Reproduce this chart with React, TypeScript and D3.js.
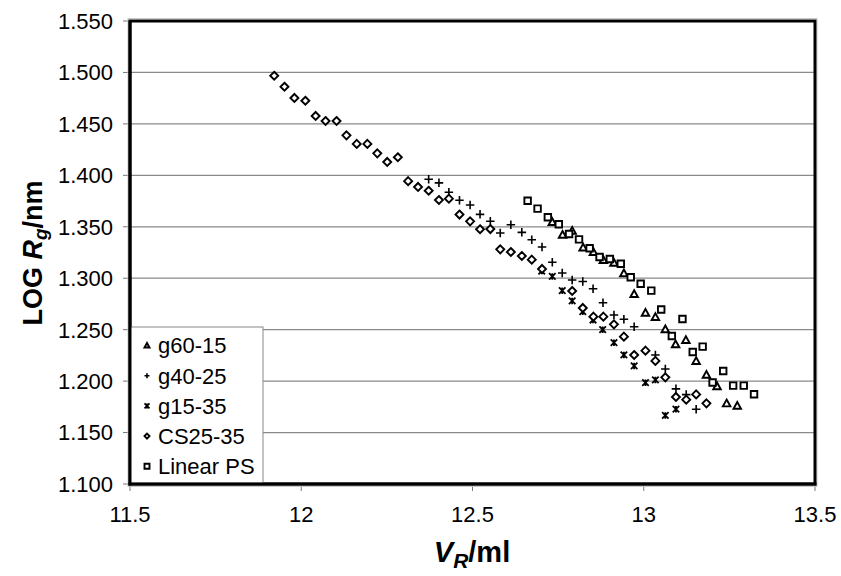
import React from "react";
import * as d3 from "d3";

// ---- data (V_R / ml, LOG Rg / nm) ----
const g6015X = [12.733, 12.763, 12.791, 12.823, 12.853, 12.882, 12.913, 12.942, 12.972, 13.005, 13.034, 13.063, 13.093, 13.123, 13.153, 13.183, 13.214, 13.242, 13.273];
const g6015Y = [1.3546, 1.3423, 1.3462, 1.3299, 1.3255, 1.3177, 1.3151, 1.3048, 1.2847, 1.2665, 1.2623, 1.2504, 1.2358, 1.24, 1.2196, 1.2062, 1.195, 1.1784, 1.176];

const g4025X = [12.372, 12.402, 12.431, 12.462, 12.493, 12.522, 12.552, 12.581, 12.612, 12.644, 12.673, 12.703, 12.733, 12.762, 12.791, 12.822, 12.852, 12.881, 12.913, 12.942, 12.972, 13.034, 13.063, 13.094, 13.124, 13.153];
const g4025Y = [1.3962, 1.3927, 1.3836, 1.3758, 1.3712, 1.3621, 1.3553, 1.344, 1.352, 1.3446, 1.3374, 1.3304, 1.3155, 1.3051, 1.2983, 1.2968, 1.2897, 1.2762, 1.2643, 1.2601, 1.2529, 1.2254, 1.2118, 1.1925, 1.1869, 1.1726];

const g1535X = [12.702, 12.733, 12.762, 12.791, 12.822, 12.852, 12.88, 12.913, 12.942, 12.972, 13.005, 13.034, 13.063, 13.094];
const g1535Y = [1.307, 1.3017, 1.2879, 1.2779, 1.2675, 1.2594, 1.25, 1.2373, 1.2254, 1.2147, 1.1985, 1.2011, 1.1666, 1.1727];

const cs2535X = [11.921, 11.951, 11.98, 12.012, 12.042, 12.071, 12.103, 12.132, 12.162, 12.193, 12.222, 12.251, 12.282, 12.312, 12.341, 12.372, 12.402, 12.431, 12.462, 12.493, 12.522, 12.552, 12.581, 12.612, 12.644, 12.673, 12.703, 12.791, 12.822, 12.853, 12.882, 12.913, 12.942, 12.972, 13.005, 13.034, 13.063, 13.094, 13.124, 13.153, 13.183];
const cs2535Y = [1.4968, 1.4861, 1.4752, 1.4725, 1.4577, 1.4528, 1.4528, 1.4389, 1.4305, 1.4305, 1.4214, 1.413, 1.4176, 1.3943, 1.3887, 1.385, 1.376, 1.3773, 1.3619, 1.3553, 1.3476, 1.3478, 1.3281, 1.3255, 1.3216, 1.318, 1.309, 1.2876, 1.2711, 1.2626, 1.2626, 1.2552, 1.2432, 1.2254, 1.2296, 1.2196, 1.2037, 1.1846, 1.182, 1.1871, 1.1784];

const linPSX = [12.661, 12.69, 12.72, 12.752, 12.782, 12.811, 12.842, 12.871, 12.901, 12.933, 12.962, 12.991, 13.022, 13.051, 13.082, 13.113, 13.143, 13.172, 13.201, 13.232, 13.261, 13.292, 13.322];
const linPSY = [1.3753, 1.3676, 1.3592, 1.3524, 1.343, 1.3378, 1.3291, 1.3206, 1.3187, 1.3141, 1.3009, 1.2947, 1.2879, 1.2696, 1.2439, 1.2604, 1.2283, 1.2335, 1.1987, 1.2098, 1.1956, 1.1956, 1.1872];

const seriesNames = ["g60-15", "g40-25", "g15-35", "CS25-35", "Linear PS"];
const seriesShapes = ["triangle", "plus", "star", "diamond", "square"];
const xTicks = [11.5, 12, 12.5, 13, 13.5];
const yTicks = [1.1, 1.15, 1.2, 1.25, 1.3, 1.35, 1.4, 1.45, 1.5, 1.55];

const W = 841, H = 576;
const L = 130, R = 815, T = 21, B = 484;

function markerPath(shape: string, s: number): string {
  const h = s / 2;
  switch (shape) {
    case "triangle":
      return `M0,${-h}L${h},${h * 0.8}L${-h},${h * 0.8}Z`;
    case "plus":
      return `M${-h},0L${h},0M0,${-h}L0,${h}`;
    case "star":
      return `M${-h},${-h}L${h},${h}M${h},${-h}L${-h},${h}M0,${-h}L0,${h}`;
    case "diamond":
      return `M0,${-h}L${h},0L0,${h}L${-h},0Z`;
    case "square":
      return `M${-h},${-h}L${h},${-h}L${h},${h}L${-h},${h}Z`;
  }
  return "";
}

function Marker({ shape, x, y, s }: { shape: string; x: number; y: number; s: number }) {
  const filled = shape === "triangle" || shape === "diamond" || shape === "square";
  return (
    <path
      d={markerPath(shape, s)}
      transform={`translate(${x},${y})`}
      fill={filled ? "#fff" : "none"}
      stroke="#000"
      strokeWidth={shape === "plus" ? 1.6 : shape === "star" ? 1.8 : 1.9}
    />
  );
}

export default function App() {
  const x = d3.scaleLinear().domain([11.5, 13.5]).range([L, R]);
  const y = d3.scaleLinear().domain([1.1, 1.55]).range([B, T]);
  const fmt = d3.format(".3f");

  const series = [
    { xs: g6015X, ys: g6015Y, shape: seriesShapes[0], s: 7.5 },
    { xs: g4025X, ys: g4025Y, shape: seriesShapes[1], s: 8.5 },
    { xs: g1535X, ys: g1535Y, shape: seriesShapes[2], s: 6.5 },
    { xs: cs2535X, ys: cs2535Y, shape: seriesShapes[3], s: 8 },
    { xs: linPSX, ys: linPSY, shape: seriesShapes[4], s: 6.5 },
  ];

  const font = "Arial, 'Liberation Sans', sans-serif";
  const legTop = 327, legLeft = 130, legRight = 263, legBottom = 483;

  return (
    <svg width={W} height={H} style={{ position: "absolute", left: 0, top: 0 }} fontFamily={font}>
      <rect x={0} y={0} width={W} height={H} fill="#fff" />
      {/* gridlines */}
      {yTicks.slice(1, -1).map((t) => (
        <line key={"g" + t} x1={L} x2={R} y1={y(t)} y2={y(t)} stroke="#8a8a8a" strokeWidth={1.3} />
      ))}
      {/* y ticks */}
      {yTicks.map((t) => (
        <g key={"yt" + t}>
          <line x1={L - 7} x2={L} y1={y(t)} y2={y(t)} stroke="#777" strokeWidth={1} />
          <text x={113} y={y(t)} dy="0.36em" textAnchor="end" fontSize={22} fill="#000">
            {fmt(t)}
          </text>
        </g>
      ))}
      {/* x ticks */}
      {xTicks.map((t) => (
        <g key={"xt" + t}>
          <line x1={x(t)} x2={x(t)} y1={B} y2={B + 7} stroke="#777" strokeWidth={1} />
          <text x={x(t)} y={522} textAnchor="middle" fontSize={22} fill="#000">
            {String(t)}
          </text>
        </g>
      ))}
      {/* outer light border */}
      <rect x={L - 2} y={T - 2.5} width={R - L + 4} height={B - T + 5} fill="none" stroke="#c8c8c8" strokeWidth={1} />
      {/* data */}
      {series.map((sr, i) => (
        <g key={"s" + i}>
          {sr.xs.map((v, j) => (
            <Marker key={j} shape={sr.shape} x={x(v)} y={y(sr.ys[j])} s={sr.s} />
          ))}
        </g>
      ))}
      {/* frame */}
      <rect x={L} y={T} width={R - L} height={B - T} fill="none" stroke="#000" strokeWidth={3} />
      {/* legend */}
      <rect x={legLeft} y={legTop} width={legRight - legLeft} height={legBottom - legTop} fill="#fff" stroke="#888" strokeWidth={1} />
      {seriesNames.map((n, i) => {
        const cy = 345.5 + i * 30.2;
        return (
          <g key={"l" + i}>
            <Marker shape={seriesShapes[i]} x={147} y={cy} s={5} />
            <text x={158} y={cy} dy="0.36em" fontSize={22} fill="#000">
              {n}
            </text>
          </g>
        );
      })}
      {/* re-draw left/bottom frame over legend */}
      <line x1={L} x2={L} y1={T} y2={B + 1.5} stroke="#000" strokeWidth={3} />
      <line x1={L - 1.5} x2={R + 1.5} y1={B} y2={B} stroke="#000" strokeWidth={3} />
      {/* axis titles */}
      <text transform="translate(42,253) rotate(-90)" textAnchor="middle" fontSize={27} fontWeight="bold" fill="#000">
        LOG <tspan fontStyle="italic">R</tspan>
        <tspan fontStyle="italic" fontSize={19} dy={5}>g</tspan>
        <tspan dy={-5}>/nm</tspan>
      </text>
      <text x={472} y={562} textAnchor="middle" fontSize={29} fontWeight="bold" fill="#000">
        <tspan fontStyle="italic">V</tspan>
        <tspan fontStyle="italic" fontSize={21} dy={6}>R</tspan>
        <tspan dy={-6}>/ml</tspan>
      </text>
    </svg>
  );
}
